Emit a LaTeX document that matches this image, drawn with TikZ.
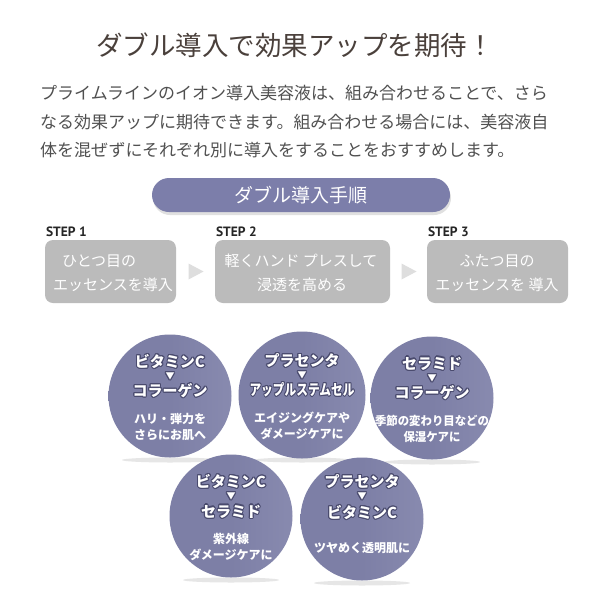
\documentclass[tikz,border=0pt]{standalone}
\usepackage{fontspec}
\setmainfont{Noto Sans CJK JP}
\newfontfamily\stepfont{PT Sans}
\usepackage[copies]{contour}
\contourlength{1.1pt}
\contournumber{12}
\usetikzlibrary{calc}
\definecolor{titlec}{HTML}{4A403B}
\definecolor{parac}{HTML}{505050}
\definecolor{pillc}{HTML}{7C7EAA}
\definecolor{boxc}{HTML}{BBBBBB}
\definecolor{tric}{HTML}{DEDEDE}
\definecolor{ballc}{HTML}{7D7FA6}
\definecolor{ballrim}{HTML}{A2A4C4}
\definecolor{outl}{HTML}{4A4B6E}
\definecolor{shadc}{HTML}{E6E6E6}
\tikzset{
  titletext/.style={font=\fontsize{26.5}{30}\selectfont, text=titlec, inner sep=0},
  para/.style={font=\fontsize{17}{20}\selectfont, text=parac, anchor=west, inner sep=0},
  pill/.style={fill=pillc, rounded corners=17pt, minimum width=298pt, minimum height=34pt,
    text=white, font=\fontsize{19}{22}\selectfont, inner sep=0},
  steplabel/.style={font=\stepfont\bfseries\fontsize{13.5}{16}\selectfont, text=black!85, anchor=south west, inner sep=0},
  stepbox/.style={fill=boxc, rounded corners=8pt, text=white, align=center,
    font=\fontsize{15}{25}\selectfont, inner sep=0, minimum height=63pt},
  tri/.style={fill=tric},
  ball/.style={circle, minimum size=123pt, inner sep=0,
    left color=ballc, right color=ballc!70!ballrim, middle color=ballc},
  shad/.style={fill=shadc},
  head/.style={font=\bfseries\fontsize{15}{17}\selectfont, text=white, inner sep=0},
  tmark/.style={font=\fontsize{9}{10}\selectfont, text=white, inner sep=0},
  subt/.style={font=\bfseries\fontsize{12}{16}\selectfont, text=white, inner sep=0, align=center},
}
\newcommand{\ol}[1]{\contour{outl}{#1}}
\begin{document}
\begin{tikzpicture}[x=1pt,y=-1pt]
\useasboundingbox (0,0) rectangle (600,600);
\fill[white] (0,0) rectangle (600,600);
% title
\node[titletext] (title) at (295,45) {ダブル導入で効果アップを期待！};
% paragraph
\node[para] (p1) at (40,93) {プライムラインのイオン導入美容液は、組み合わせることで、さら};
\node[para] (p2) at (40,122) {なる効果アップに期待できます。組み合わせる場合には、美容液自};
\node[para] (p3) at (40,150) {体を混ぜずにそれぞれ別に導入をすることをおすすめします。};
% pill
\fill[black!12, rounded corners=17pt] (153,181) rectangle (451,215);
\node[pill] (pill) at (301,195) {ダブル導入手順};
% steps
\node[stepbox, minimum width=131pt] (b1) at (110.5,271.5) {};
\node[stepbox, minimum width=175pt] (b2) at (302.5,271.5) {};
\node[stepbox, minimum width=141pt] (b3) at (497.5,271.5) {};
\node[steplabel] (s1) at ([xshift=1pt,yshift=3pt]b1.north west) {STEP 1};
\node[steplabel] (s2) at ([xshift=1pt,yshift=3pt]b2.north west) {STEP 2};
\node[steplabel] (s3) at ([xshift=1pt,yshift=3pt]b3.north west) {STEP 3};
\node[stepbox, fill=none, minimum height=0pt, anchor=west] (t1a) at (62,261) {ひとつ目の};
\node[stepbox, fill=none, minimum height=0pt] (t1b) at (113,285) {エッセンスを導入};
\node[stepbox, fill=none, minimum height=0pt] (t2a) at (301,261) {軽くハンド プレスして};
\node[stepbox, fill=none, minimum height=0pt] (t2b) at (302,285) {浸透を高める};
\node[stepbox, fill=none, minimum height=0pt] (t3a) at (497,261) {ふたつ目の};
\node[stepbox, fill=none, minimum height=0pt] (t3b) at (497,285) {エッセンスを 導入};
\coordinate (a1) at ($(b1.east)!0.5!(b2.west)$);
\coordinate (a2) at ($(b2.east)!0.5!(b3.west)$);
\fill[tri] ($(a1)+(-7,-8)$) -- ($(a1)+(8,0)$) -- ($(a1)+(-7,8)$) -- cycle;
\fill[tri] ($(a2)+(-7,-8)$) -- ($(a2)+(8,0)$) -- ($(a2)+(-7,8)$) -- cycle;
% shadows
\foreach \cx/\cy in {170/396, 302/396, 432/398, 231/516, 362/519}{
  \fill[shad] (\cx,\cy+64) ellipse (48pt and 2.5pt);
}
% balls
\node[ball] (c1) at (170,396) {};
\node[ball, minimum size=127pt] (c2) at (302,395) {};
\node[ball] (c3) at (432,398) {};
\node[ball] (c4) at (231,516) {};
\node[ball] (c5) at (362,519) {};
% ball 1
\node[head] (c1a) at ($(c1)+(0,-34)$) {\ol{ビタミンC}};
\node[tmark] (c1m) at ($(c1)+(0,-19)$) {\ol{▼}};
\node[head] (c1b) at ($(c1)+(0,-5)$) {\ol{コラーゲン}};
\node[subt] (c1s) at ($(c1)+(0,31)$) {ハリ・弾力を\\さらにお肌へ};
% ball 2
\node[head] (c2a) at ($(c2)+(0,-34)$) {\ol{プラセンタ}};
\node[tmark] (c2m) at ($(c2)+(0,-19)$) {\ol{▼}};
\node[head, xscale=0.78] (c2b) at ($(c2)+(0,-5)$) {\ol{アップルステムセル}};
\node[subt] (c2s) at ($(c2)+(0,31)$) {エイジングケアや\\ダメージケアに};
% ball 3
\node[head] (c3a) at ($(c3)+(0,-34)$) {\ol{セラミド}};
\node[tmark] (c3m) at ($(c3)+(0,-19)$) {\ol{▼}};
\node[head] (c3b) at ($(c3)+(0,-5)$) {\ol{コラーゲン}};
\node[subt, xscale=0.95] (c3s) at ($(c3)+(0,31)$) {季節の変わり目などの\\保湿ケアに};
% ball 4
\node[head] (c4a) at ($(c4)+(0,-34)$) {\ol{ビタミンC}};
\node[tmark] (c4m) at ($(c4)+(0,-19)$) {\ol{▼}};
\node[head] (c4b) at ($(c4)+(0,-4)$) {\ol{セラミド}};
\node[subt] (c4s) at ($(c4)+(0,31)$) {紫外線\\ダメージケアに};
% ball 5
\node[head] (c5a) at ($(c5)+(0,-37)$) {\ol{プラセンタ}};
\node[tmark] (c5m) at ($(c5)+(0,-22)$) {\ol{▼}};
\node[head] (c5b) at ($(c5)+(0,-6)$) {\ol{ビタミンC}};
\node[subt] (c5s) at ($(c5)+(0,29)$) {ツヤめく透明肌に};
\end{tikzpicture}
\end{document}
